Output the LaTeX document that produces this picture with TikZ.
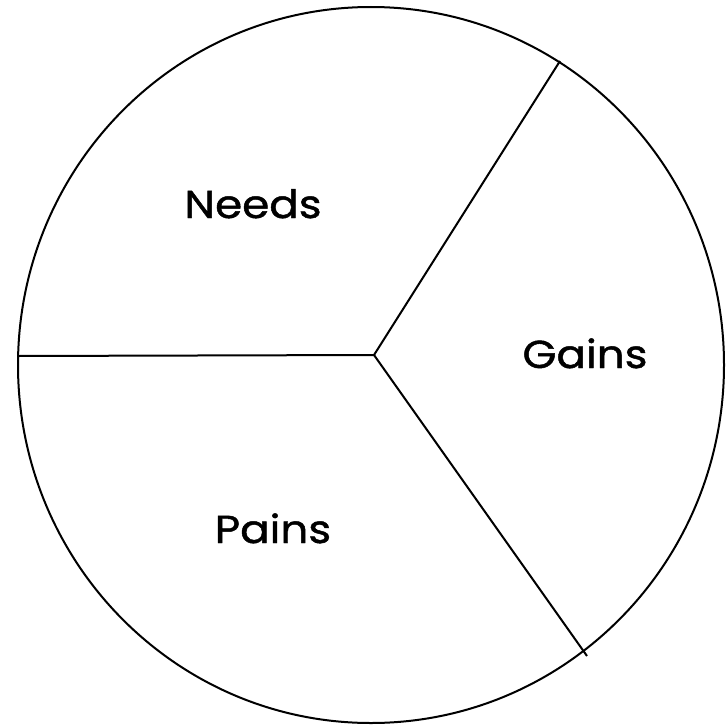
\documentclass[tikz,border=0pt]{standalone}
\usepackage{fontspec}
\setmainfont{Poppins}[FakeBold=1.2, FakeStretch=1.12]
\usetikzlibrary{positioning}

\begin{document}
\begin{tikzpicture}[x=1pt, y=-1pt, line width=2pt,
			lbl/.style={font=\fontsize{39}{44}\selectfont, anchor=base, inner sep=0pt}]
			\useasboundingbox (0,0) rectangle (725,725);
			\draw (371,365) ellipse [x radius=353, y radius=358];
			\coordinate (c) at (374,355);
			\coordinate (l) at (18,356);
			\coordinate (ur) at (560,61);
			\coordinate (lr) at (587,656);
			\draw (c) -- (l);
			\draw (c) -- (ur);
			\draw (c) -- (lr);
			\node[lbl] (needs) at (253,218) {Needs};
			\node[lbl] (gains) at (585,368) {Gains};
			\node[lbl] (pains) at (273,543) {Pains};
		\end{tikzpicture}
\end{document}
